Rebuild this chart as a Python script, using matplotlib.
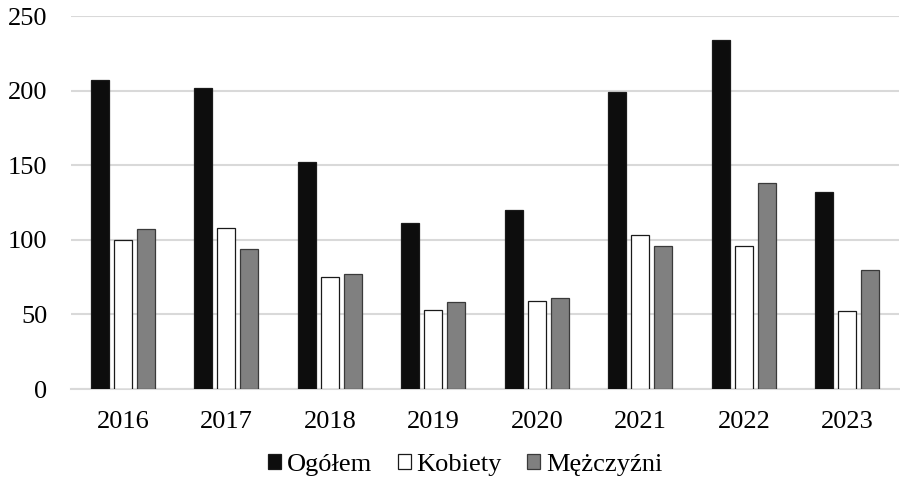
import matplotlib
matplotlib.use("Agg")
import matplotlib.pyplot as plt
import numpy as np

plt.rcParams['font.family'] = ['Liberation Serif', 'DejaVu Serif']

years = ['2016', '2017', '2018', '2019', '2020', '2021', '2022', '2023']
ogolem = [207, 202, 152, 111, 120, 199, 234, 132]
kobiety = [100, 108, 75, 53, 59, 103, 96, 52]
mezczyzni = [107, 94, 77, 58, 61, 96, 138, 80]
series_names = ['Ogółem', 'Kobiety', 'Mężczyźni']

fig = plt.figure(figsize=(9, 4.91), dpi=100)
ax = fig.add_axes([0.079, 0.2077, 0.92, 0.7597])

x = np.arange(len(years))
w = 0.174
step = 0.222
styles = [
    dict(color='#0d0d0d', edgecolor='#1a1a1a'),
    dict(color='white', edgecolor='#1a1a1a'),
    dict(color='#808080', edgecolor='#3a3a3a'),
]
for i, (vals, name, st) in enumerate(zip([ogolem, kobiety, mezczyzni], series_names, styles)):
    ax.bar(x + (i - 1) * step, vals, width=w, label=name, linewidth=0.9, zorder=3, **st)

ax.set_xlim(-0.5, len(years) - 0.5)
ax.set_ylim(0, 250)
ax.set_yticks([0, 50, 100, 150, 200, 250])
ax.set_xticks(x)
ax.set_xticklabels(years)
ax.yaxis.grid(True, color='#d9d9d9', linewidth=1.5, zorder=0)
ax.set_axisbelow(True)
for s in ['top', 'right', 'left']:
    ax.spines[s].set_visible(False)
ax.spines['bottom'].set_color('#d9d9d9')
ax.spines['bottom'].set_linewidth(1.5)
ax.tick_params(axis='both', length=0, labelsize=19, colors='black')
ax.tick_params(axis='y', pad=17)
ax.tick_params(axis='x', pad=16)

leg = fig.legend(loc='center', bbox_to_anchor=(0.517, 0.053), ncol=3, frameon=False,
                 fontsize=19, handlelength=0.5, handleheight=0.5, handletextpad=0.22,
                 columnspacing=0.95)

fig.savefig('out.png', dpi=100)
